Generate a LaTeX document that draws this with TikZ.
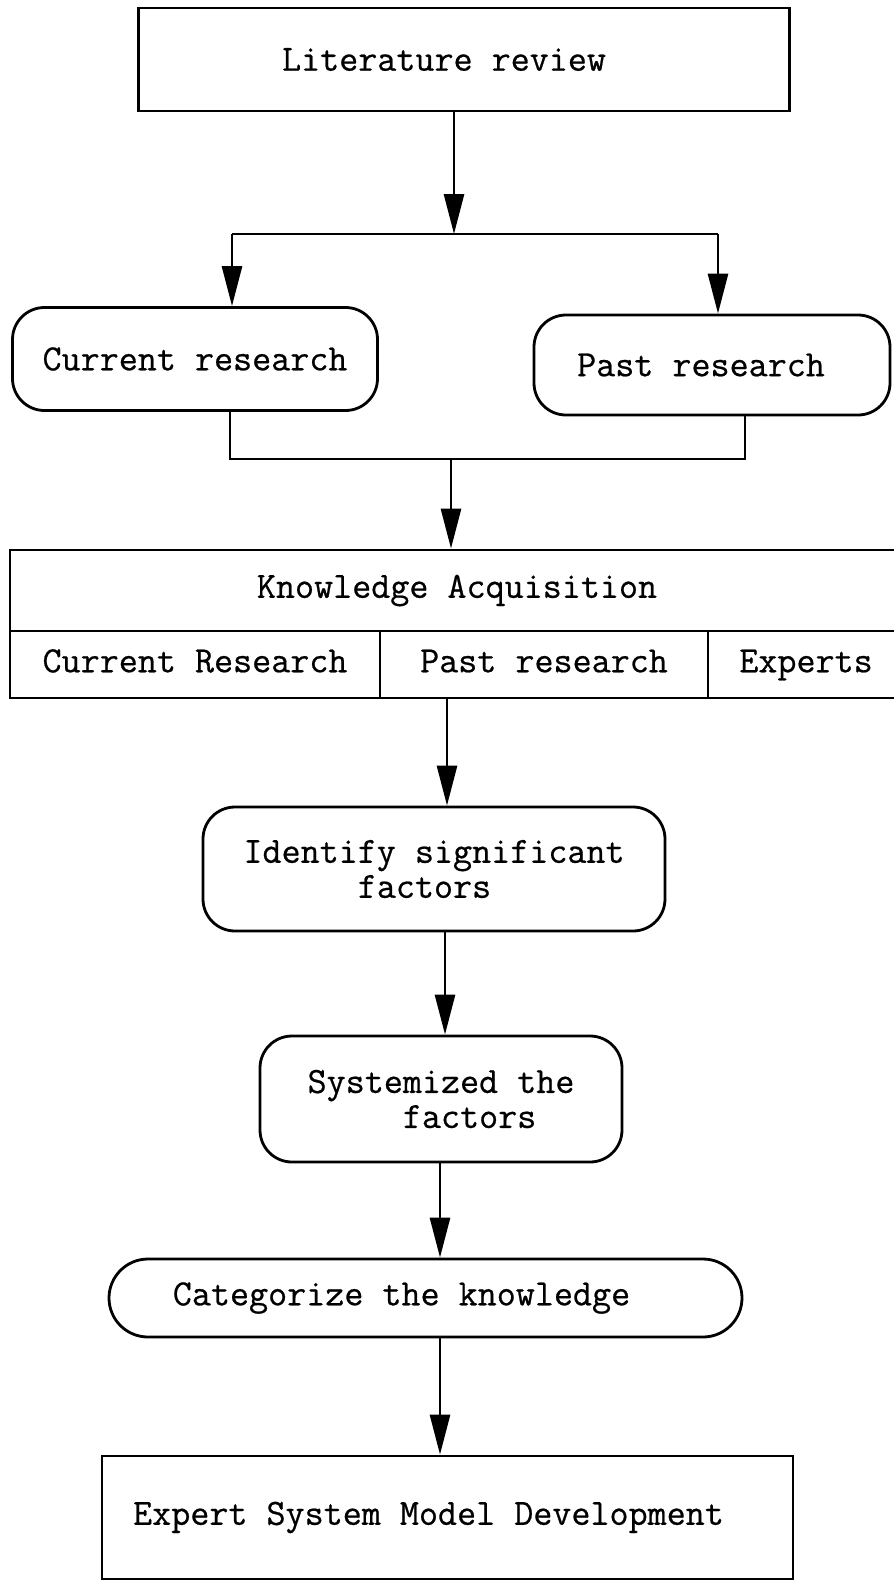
\documentclass[tikz,border=0pt]{standalone}
\usepackage{fontspec}
\newfontfamily\boxfont[FakeBold=0.6]{Latin Modern Mono}
\usetikzlibrary{arrows.meta}
\tikzset{
  box/.style={draw, line width=2.8pt, inner sep=0pt, align=center, font=\boxfont\fontsize{37}{35}\selectfont},
  rbox/.style={box, rounded corners=32pt},
  cell/.style={draw, line width=2.8pt, inner sep=0pt, font=\boxfont\fontsize{37}{35}\selectfont, minimum height=67pt, text height=23pt, text depth=7.5pt}
}
\begin{document}
\begin{tikzpicture}[x=1pt, y=-1pt, >={Triangle[length=40pt,width=20pt]}, line width=2.8pt]
\useasboundingbox (0,0) rectangle (894,1582);
\node[box, minimum width=651pt, minimum height=103pt] (lit) at (464,59.5) {\hspace*{-40pt}Literature review};
\node[rbox, minimum width=365pt, minimum height=103pt] (cur) at (195,359) {Current research};
\node[rbox, minimum width=356pt, minimum height=100pt] (past) at (712,365) {\hspace*{-22pt}Past research};
\node[box, minimum width=894pt, minimum height=81pt] (ka) at (457,590.5) {Knowledge Acquisition};
\node[cell, minimum width=370pt] (cr) at (195,664.5) {Current Research};
\node[cell, minimum width=328pt] (pr) at (544,664.5) {Past research};
\node[cell, minimum width=196pt] (ex) at (806,664.5) {Experts};
\node[rbox, minimum width=462pt, minimum height=124pt, align=left] (ident) at (434,869) {Identify significant\\\hphantom{Identi}factors};
\node[rbox, minimum width=362pt, minimum height=126pt, align=left] (sys) at (441,1099) {Systemized the\\\hphantom{Syste}factors};
\node[rbox, rounded corners=39pt, minimum width=633pt, minimum height=78pt] (cat) at (425.5,1298) {\hspace*{-48pt}Categorize the knowledge};
\node[box, minimum width=691pt, minimum height=123pt] (exp) at (447.5,1517.5) {\hspace*{-38pt}Expert System Model Development};
% split and merge points
\coordinate (split) at (454,234);
\coordinate (sl) at (232,234);
\coordinate (sr) at (718,234);
\coordinate (ml) at (230,459);
\coordinate (mr) at (745,459);
\coordinate (merge) at (451,459);
\coordinate (a1) at (447,0);
\coordinate (a2) at (445,0);
\coordinate (a3) at (440,0);
\draw[->] (lit.south -| split) -- (split);
\draw (sl) -- (sr);
\draw[->] (sl) -- (sl |- cur.north);
\draw[->] (sr) -- (sr |- past.north);
\draw (ml |- cur.south) -- (ml) -- (mr) -- (mr |- past.south);
\draw[->] (merge) -- (merge |- ka.north);
\draw[->] (a1 |- pr.south) -- (a1 |- ident.north);
\draw[->] (a2 |- ident.south) -- (a2 |- sys.north);
\draw[->] (a3 |- sys.south) -- (a3 |- cat.north);
\draw[->] (a3 |- cat.south) -- (a3 |- exp.north);
\end{tikzpicture}
\end{document}
